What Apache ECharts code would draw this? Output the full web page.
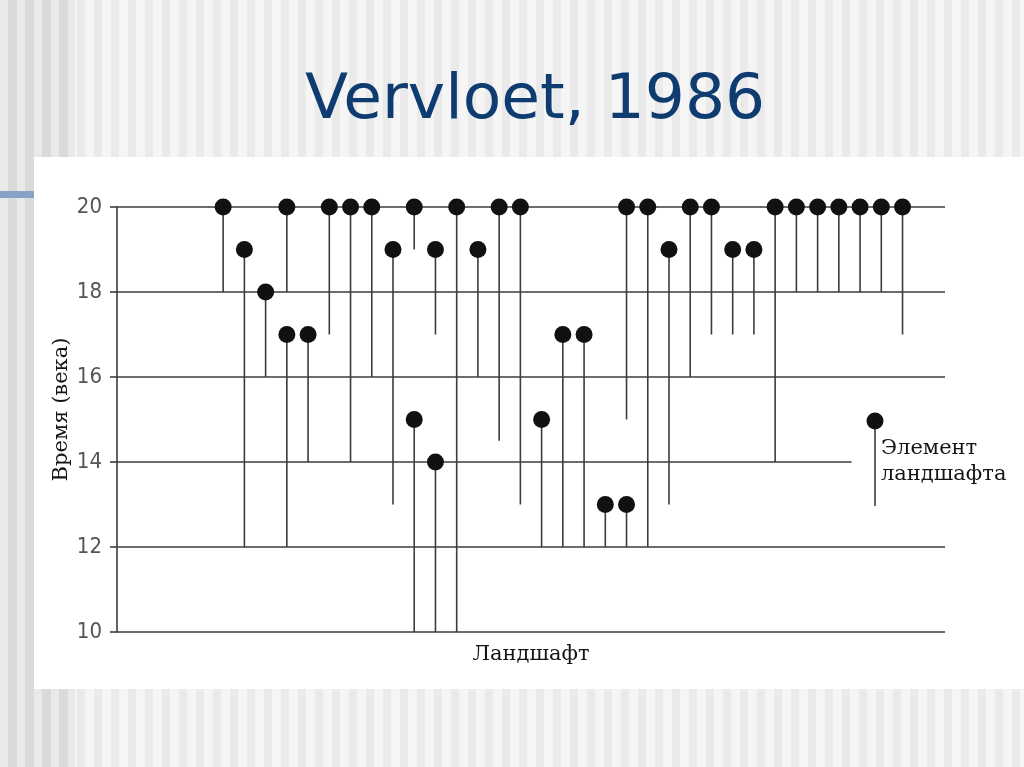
<!DOCTYPE html>
<html>
<head>
<meta charset="utf-8">
<script src="https://cdn.jsdelivr.net/npm/echarts@6/dist/echarts.min.js"></script>
<style>
  html, body { margin:0; padding:0; width:1024px; height:767px; overflow:hidden; }
  body { background: repeating-linear-gradient(90deg, #f5f5f5 0px, #f5f5f5 9px, #eaeaea 9px, #eaeaea 17px); position:relative; }
  #strip { position:absolute; left:0; top:0; width:75px; height:767px;
    background: repeating-linear-gradient(90deg, #e9e9e9 0px, #e9e9e9 8px, #dadada 8px, #dadada 17px); }
  #panel { position:absolute; left:34px; top:157px; width:990px; height:532px; background:#fff; }
  #bar { position:absolute; left:0; top:191px; width:34px; height:7px; background:#86a2c6; }
  #chart { position:absolute; left:0; top:0; width:1024px; height:767px; }
</style>
</head>
<body>
<div id="strip"></div>
<div id="panel"></div>
<div id="bar"></div>
<div id="chart"></div>
<script>
// Landscape elements: column index, century where the element appears (dot), century it reaches back to
const elementColumn = [0,1,2,3,3,4,5,6,7,8,9,9,10,10,11,12,13,14,15,16,17,18,19,19,20,21,22,23,24,25,26,27,28,29,30,31,32];
const dotCentury    = [20,19,18,20,17,17,20,20,20,19,20,15,19,14,20,19,20,20,15,17,17,13,20,13,20,19,20,20,19,19,20,20,20,20,20,20,20];
const endCentury    = [18,12,16,18,12,14,17,14,16,13,19,10,17,10,10,16,14.5,13,12,12,12,12,15,12,12,13,16,17,17,17,14,18,18,18,18,18,17];
const centuryTicks  = [10,12,14,16,18,20];

const title = 'Vervloet, 1986';
const yName = 'Время (века)';
const xName = 'Ландшафт';
const legendText = 'Элемент\nландшафта';

const X_MIN = -5, X_MAX = 34;
const SHORT_LEVEL = 14, SHORT_END = 29.6;
const INK = '#3c3c3c';

const stems = elementColumn.map((c, i) => [c, dotCentury[i], endCentury[i]]);
const dots = elementColumn.map((c, i) => [c, dotCentury[i]]);
const hLines = centuryTicks.map(l => [l, l === SHORT_LEVEL ? SHORT_END : X_MAX]);

const chart = echarts.init(document.getElementById('chart'), null, {renderer: 'canvas'});
chart.setOption({
  backgroundColor: 'transparent',
  animation: false,
  title: {
    text: title, left: 300, top: 65,
    textStyle: { fontFamily: 'DejaVu Sans, Verdana, sans-serif', fontSize: 63, fontWeight: 'normal', color: '#0f3c70' }
  },
  grid: { left: 117, right: 79, top: 207, bottom: 135, containLabel: false },
  xAxis: {
    type: 'value', min: X_MIN, max: X_MAX,
    name: xName, nameLocation: 'middle', nameGap: 12,
    nameTextStyle: { fontFamily: 'DejaVu Serif, serif', fontSize: 21, color: '#151515', verticalAlign: 'top' },
    axisLine: { show: false }, axisTick: { show: false }, axisLabel: { show: false }, splitLine: { show: false }
  },
  yAxis: {
    type: 'value', min: 10, max: 20, interval: 2,
    name: yName, nameLocation: 'middle', nameGap: 45, nameRotate: 90, nameMoveOverlap: false,
    nameTextStyle: { fontFamily: 'DejaVu Serif, serif', fontSize: 21, color: '#151515', padding: [0, 0, 0, 20] },
    axisLine: { show: true, onZero: false, lineStyle: { color: INK, width: 1.6 } },
    axisTick: { show: true, length: 7, lineStyle: { color: INK, width: 1.6 } },
    axisLabel: { margin: 15, fontFamily: '"DejaVu Sans Condensed", "Liberation Sans Narrow", sans-serif', fontSize: 22, color: '#555' },
    splitLine: { show: false }
  },
  series: [
    {
      type: 'custom', name: 'levels', data: hLines, silent: true, clip: false,
      encode: { x: 1, y: 0 },
      renderItem: function (params, api) {
        const a = api.coord([X_MIN, api.value(0)]);
        const b = api.coord([api.value(1), api.value(0)]);
        return { type: 'line', shape: { x1: a[0], y1: a[1], x2: b[0], y2: b[1] },
          style: { stroke: INK, lineWidth: 1.6 } };
      },
      z: 1
    },
    {
      type: 'custom', name: 'stems', data: stems, silent: true, clip: false,
      encode: { x: 0, y: [1, 2] },
      renderItem: function (params, api) {
        const a = api.coord([api.value(0), api.value(1)]);
        const b = api.coord([api.value(0), api.value(2)]);
        return { type: 'line', shape: { x1: a[0], y1: a[1], x2: b[0], y2: b[1] },
          style: { stroke: INK, lineWidth: 1.6 } };
      },
      z: 2
    },
    {
      type: 'scatter', name: 'elements', data: dots, symbol: 'circle', symbolSize: 17,
      itemStyle: { color: '#111', opacity: 1 }, z: 3, silent: true
    }
  ],
  graphic: [
    { type: 'line', shape: { x1: 875, y1: 421, x2: 875, y2: 506 }, style: { stroke: INK, lineWidth: 1.6 }, z: 10 },
    { type: 'circle', shape: { cx: 875, cy: 421, r: 8.5 }, style: { fill: '#111' }, z: 11 },
    { type: 'text', x: 881, y: 436, z: 11,
      style: { text: legendText, fontFamily: 'DejaVu Serif, serif', fontSize: 21, lineHeight: 26, fill: '#151515', verticalAlign: 'top' } }
  ]
});
</script>
</body>
</html>
